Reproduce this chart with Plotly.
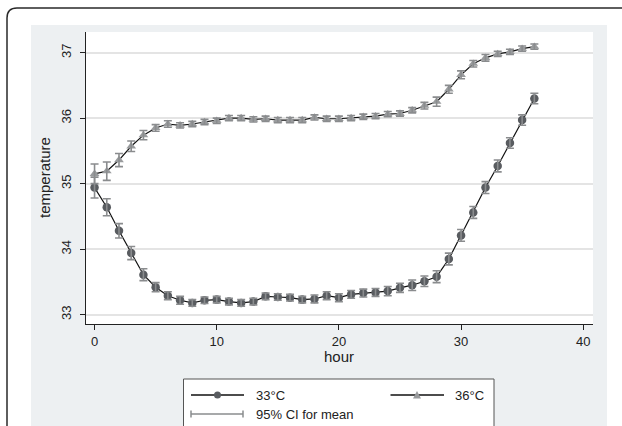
import plotly.graph_objects as go

hours = list(range(37))
t33 = [34.94, 34.64, 34.28, 33.94, 33.61, 33.42, 33.29, 33.22, 33.18, 33.22,
       33.23, 33.20, 33.18, 33.20, 33.28, 33.27, 33.26, 33.23, 33.24, 33.29,
       33.26, 33.31, 33.33, 33.34, 33.36, 33.41, 33.45, 33.51, 33.58, 33.85,
       34.21, 34.56, 34.94, 35.27, 35.62, 35.97, 36.30]
e33 = [0.16, 0.13, 0.11, 0.10, 0.09, 0.07, 0.06, 0.06, 0.05, 0.05,
       0.05, 0.05, 0.05, 0.05, 0.05, 0.05, 0.05, 0.05, 0.06, 0.06,
       0.06, 0.06, 0.06, 0.06, 0.07, 0.07, 0.08, 0.08, 0.09, 0.09,
       0.09, 0.09, 0.09, 0.09, 0.08, 0.08, 0.08]
t36 = [35.15, 35.19, 35.36, 35.57, 35.74, 35.85, 35.91, 35.89, 35.91, 35.94,
       35.96, 36.00, 36.00, 35.98, 35.99, 35.97, 35.97, 35.97, 36.01, 35.99,
       35.99, 36.00, 36.02, 36.03, 36.06, 36.07, 36.12, 36.19, 36.25, 36.44,
       36.66, 36.83, 36.92, 36.98, 37.01, 37.06, 37.09]
e36 = [0.15, 0.14, 0.10, 0.08, 0.07, 0.05, 0.05, 0.04, 0.04, 0.04,
       0.04, 0.04, 0.04, 0.04, 0.04, 0.04, 0.04, 0.04, 0.04, 0.04,
       0.04, 0.04, 0.04, 0.04, 0.04, 0.04, 0.04, 0.05, 0.07, 0.06,
       0.06, 0.05, 0.05, 0.04, 0.04, 0.04, 0.04]
x_ticks = [0, 10, 20, 30, 40]
y_ticks = [33, 34, 35, 36, 37]
labels = ["33°C", "36°C", "95% CI for mean"]

W, H = 622, 426
ML, MR, MT, MB = 86, 29, 32, 102
PW, PH = W - ML - MR, H - MT - MB

def px(x):
    return (x - ML) / PW

def py(y):
    return (H - MB - y) / PH

C33 = "#595c60"
C36 = "#999b9d"
CERR = "#8a8c8e"
FONT = "Liberation Sans, Arial, sans-serif"

fig = go.Figure()
fig.add_trace(go.Scatter(x=hours, y=t33, mode="lines+markers",
                         line=dict(color="#111111", width=1.2),
                         marker=dict(symbol="circle", size=8.5, color=C33),
                         showlegend=False))
fig.add_trace(go.Scatter(x=hours, y=t36, mode="lines+markers",
                         line=dict(color="#111111", width=1.2),
                         marker=dict(symbol="triangle-up", size=8.5, color=C36),
                         showlegend=False))
for t, e in ((t33, e33), (t36, e36)):
    fig.add_trace(go.Scatter(x=hours, y=t, mode="markers",
                             marker=dict(size=1, color="rgba(0,0,0,0)"),
                             error_y=dict(type="data", array=e, visible=True,
                                          color=CERR, thickness=1.6, width=4),
                             showlegend=False, hoverinfo="skip"))

shapes = []
shapes.append(dict(type="rect", xref="paper", yref="paper", layer="below",
                   x0=px(31), x1=px(607), y0=py(440), y1=py(25),
                   fillcolor="#edf0f2", line=dict(width=0)))
shapes.append(dict(type="rect", xref="paper", yref="paper", layer="below",
                   x0=0, x1=1, y0=0, y1=1,
                   fillcolor="white", line=dict(width=0)))
r = 10
path = (f"M {px(7)},{py(440)} L {px(7)},{py(8 + r)} "
        f"Q {px(7)},{py(8)} {px(7 + r)},{py(8)} L {px(640)},{py(8)}")
shapes.append(dict(type="path", xref="paper", yref="paper", path=path,
                   line=dict(color="#2a2a2a", width=1.5)))
shapes.append(dict(type="rect", xref="paper", yref="paper",
                   x0=px(183.5), x1=px(494), y0=py(440), y1=py(379),
                   fillcolor="white", line=dict(color="#555555", width=1)))
for (xa, xb, yy) in ((191, 244, 395), (390.5, 444, 395)):
    shapes.append(dict(type="line", xref="paper", yref="paper",
                       x0=px(xa), x1=px(xb), y0=py(yy), y1=py(yy),
                       line=dict(color="#111111", width=1.6)))
shapes.append(dict(type="circle", xref="paper", yref="paper",
                   x0=px(214), x1=px(221), y0=py(398.5), y1=py(391.5),
                   fillcolor=C33, line=dict(width=0)))
shapes.append(dict(type="path", xref="paper", yref="paper",
                   path=f"M {px(413)},{py(398.5)} L {px(421)},{py(398.5)} L {px(417)},{py(391)} Z",
                   fillcolor=C36, line=dict(width=0)))
shapes.append(dict(type="line", xref="paper", yref="paper",
                   x0=px(191), x1=px(243), y0=py(414), y1=py(414),
                   line=dict(color=CERR, width=1.6)))
for xx in (191, 243):
    shapes.append(dict(type="line", xref="paper", yref="paper",
                       x0=px(xx), x1=px(xx), y0=py(410.5), y1=py(417.5),
                       line=dict(color=CERR, width=1.5)))

annotations = []
for (txt, xx, yy) in ((labels[0], 254, 395), (labels[1], 453, 395), (labels[2], 254, 414)):
    annotations.append(dict(text=txt, xref="paper", yref="paper",
                            x=px(xx), y=py(yy), xanchor="left", yanchor="middle",
                            showarrow=False,
                            font=dict(family=FONT, size=13, color="#222222")))
annotations.append(dict(text="hour", xref="paper", yref="paper",
                        x=px(339), y=py(357), xanchor="center", yanchor="middle",
                        showarrow=False, font=dict(family=FONT, size=15, color="#222222")))
annotations.append(dict(text="temperature", xref="paper", yref="paper",
                        x=px(44), y=py(178), xanchor="center", yanchor="middle",
                        textangle=-90, showarrow=False,
                        font=dict(family=FONT, size=15, color="#222222")))

fig.update_layout(
    width=W, height=H,
    margin=dict(l=ML, r=MR, t=MT, b=MB),
    paper_bgcolor="white", plot_bgcolor="rgba(0,0,0,0)",
    font=dict(family=FONT, size=13, color="#222222"),
    shapes=shapes, annotations=annotations,
    showlegend=False,
    xaxis=dict(range=[-0.70, 40.8], tickvals=x_ticks, ticks="outside", ticklen=5,
               tickcolor="#222222", showline=True, linecolor="#222222", linewidth=1.2,
               showgrid=False, zeroline=False, tickfont=dict(size=13)),
    yaxis=dict(range=[32.858, 37.314], tickvals=y_ticks, ticks="outside", ticklen=5,
               tickcolor="#222222", showline=True, linecolor="#222222", linewidth=1.2,
               showgrid=True, gridcolor="#e4e4e4", gridwidth=1.5, zeroline=False,
               tickangle=-90, tickfont=dict(size=13), ticklabelstandoff=4),
)
fig.write_html("out.html", config={"displayModeBar": False},
               post_script="document.body.style.margin='0px';document.body.style.overflow='hidden';")
